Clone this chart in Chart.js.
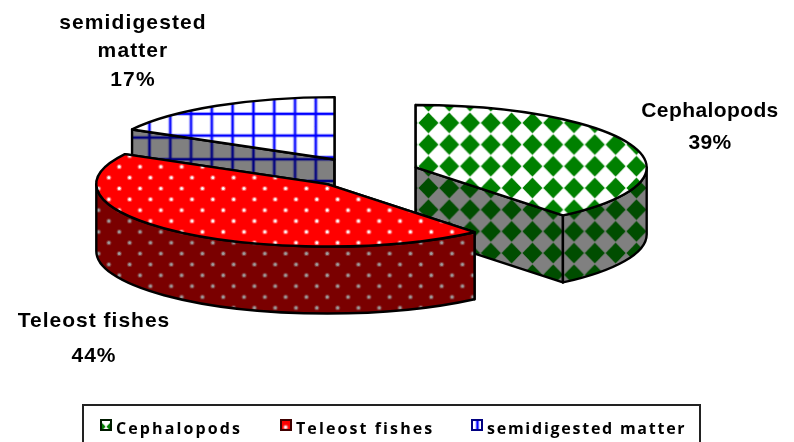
<!DOCTYPE html>
<html>
<head>
<meta charset="utf-8">
<style>
  html, body { margin: 0; padding: 0; background: #fff; }
  #wrap { width: 794px; height: 442px; position: relative; overflow: hidden; }
</style>
<script src="https://cdn.jsdelivr.net/npm/chart.js@4"></script>
</head>
<body>
<div id="wrap"><canvas id="dietChart"></canvas></div>
<script>
var categories = ['Cephalopods', 'Teleost fishes', 'semidigested matter'];
var shares = [39, 44, 17];

// pie look: tilt of the disc, thickness, how far slices are pulled out
var TILT = 0.27;
var DEPTH = 67;
var EXPLODE = 56;
var RADIUS = 231;

function tile(w, h, bg, paint) {
    var c = document.createElement('canvas');
    c.width = w;
    c.height = h;
    var g = c.getContext('2d');
    g.fillStyle = bg;
    g.fillRect(0, 0, w, h);
    paint(g, w, h);
    return c;
}

function toPattern(canvas, ox, oy) {
    var p = document.createElement('canvas').getContext('2d').createPattern(canvas, 'repeat');
    // tiles repeat about every 20.8 x 21.7 px on screen
    p.setTransform(new DOMMatrix().translate(ox, oy).scale(20.8 / canvas.width, 21.7 / canvas.height));
    return p;
}

function diamonds(bg, fg, ox, oy) {
    return toPattern(tile(21, 22, bg, function (g, w, h) {
        g.fillStyle = fg;
        g.beginPath();
        g.moveTo(w / 2, 0.4);
        g.lineTo(w - 0.4, h / 2);
        g.lineTo(w / 2, h - 0.4);
        g.lineTo(0.4, h / 2);
        g.closePath();
        g.fill();
    }), ox, oy);
}

function dots(bg, fg, ox, oy) {
    return toPattern(tile(21, 22, bg, function (g, w, h) {
        [[w / 4, h / 4], [w * 3 / 4, h * 3 / 4]].forEach(function (d) {
            // soft halo round each dot
            g.globalAlpha = 0.35;
            g.fillStyle = fg;
            g.beginPath();
            g.arc(d[0], d[1], 2.6, 0, Math.PI * 2);
            g.fill();
            g.globalAlpha = 1;
            g.beginPath();
            g.arc(d[0], d[1], 1.5, 0, Math.PI * 2);
            g.fill();
        });
    }), ox, oy);
}

function grid(bg, fg, ox, oy) {
    return toPattern(tile(21, 22, bg, function (g, w, h) {
        g.fillStyle = fg;
        g.globalAlpha = 0.3;
        g.fillRect(w / 2 - 2, 0, 4, h);
        g.fillRect(0, h / 2 - 2, w, 4);
        g.globalAlpha = 1;
        g.fillRect(w / 2 - 1, 0, 2, h);
        g.fillRect(0, h / 2 - 1, w, 2);
    }), ox, oy);
}

var topFills = [
    diamonds('#ffffff', '#008000', 418, 112),
    dots('#ff0000', '#ffffff', 114, 183),
    grid('#ffffff', '#0000ff', 139, 103)
];
var wallFills = [
    diamonds('#808080', '#004d00', 418, 112),
    dots('#7a0000', '#a0a0a0', 114, 183),
    grid('#808080', '#000080', 139, 105)
];
var swatchFills = [topFills[0], topFills[1], grid('#ffffff', '#0000ff', 467, 430)];
var swatchEdges = ['#001a00', '#400000', '#000080'];

function pt(c, a, r) {
    return { x: c.x + Math.cos(a) * r, y: c.y + Math.sin(a) * r * TILT };
}

function ellipseArc(ctx, c, r, from, to, drop, ccw) {
    ctx.ellipse(c.x, c.y + drop, r, r * TILT, 0, from, to, ccw);
}

function paintPath(ctx, fill) {
    ctx.fillStyle = fill;
    ctx.fill();
    ctx.lineWidth = 2.4;
    ctx.strokeStyle = '#000';
    ctx.lineJoin = 'round';
    ctx.stroke();
}

function radialFace(ctx, c, r, a, fill) {
    var p = pt(c, a, r);
    ctx.beginPath();
    ctx.moveTo(c.x, c.y);
    ctx.lineTo(p.x, p.y);
    ctx.lineTo(p.x, p.y + DEPTH);
    ctx.lineTo(c.x, c.y + DEPTH);
    ctx.closePath();
    paintPath(ctx, fill);
}

function drawSlice(ctx, arc, i) {
    var s = arc.startAngle, e = arc.endAngle, r = arc.outerRadius;
    var mid = (s + e) / 2;
    var c = { x: arc.x + Math.cos(mid) * EXPLODE, y: arc.y + Math.sin(mid) * EXPLODE * TILT };

    radialFace(ctx, c, r, s, wallFills[i]);
    radialFace(ctx, c, r, e, wallFills[i]);

    // only the part of the rim on the viewer's side is visible (0..PI on canvas)
    var fs = Math.max(s, 0), fe = Math.min(e, Math.PI);
    if (fe > fs) {
        var a = pt(c, fs, r), b = pt(c, fe, r);
        ctx.beginPath();
        ctx.moveTo(a.x, a.y);
        ellipseArc(ctx, c, r, fs, fe, 0, false);
        ctx.lineTo(b.x, b.y + DEPTH);
        ellipseArc(ctx, c, r, fe, fs, DEPTH, true);
        ctx.closePath();
        paintPath(ctx, wallFills[i]);
    }

    ctx.beginPath();
    ctx.moveTo(c.x, c.y);
    ellipseArc(ctx, c, r, s, e, 0, false);
    ctx.closePath();
    paintPath(ctx, topFills[i]);
}

var tiltedPie = {
    id: 'tiltedPie',
    beforeDatasetDraw: function (chart, args) {
        var arcs = args.meta.data;
        var ctx = chart.ctx;
        ctx.save();
        // back slice first, the front slice covers the others
        [2, 0, 1].forEach(function (i) {
            drawSlice(ctx, arcs[i], i);
        });
        ctx.restore();
        return false;
    }
};

var labelLines = [
    [categories[0], null],
    [categories[1], null],
    ['semidigested', 'matter', null]
];
var labelSpots = [
    { x: 710, y: 111, gap: 32, spacing: '0.4px' },
    { x: 94, y: 321, gap: 35, spacing: '1px' },
    { x: 133, y: 23, gap: 28.5, spacing: '1.1px' }
];
var legendSpots = [
    { box: 101, text: 116, spacing: '2.1px' },
    { box: 281, text: 296, spacing: '2.1px' },
    { box: 472, text: 487, spacing: '1.75px' }
];

var textAndLegend = {
    id: 'textAndLegend',
    afterDraw: function (chart) {
        var ctx = chart.ctx;
        ctx.save();
        ctx.textBaseline = 'middle';
        ctx.fillStyle = '#000';

        ctx.font = 'bold 21px "Liberation Sans"';
        ctx.textAlign = 'center';
        labelSpots.forEach(function (spot, i) {
            ctx.letterSpacing = spot.spacing;
            labelLines[i].forEach(function (line, n) {
                ctx.fillText(line === null ? shares[i] + '%' : line, spot.x, spot.y + n * spot.gap);
            });
        });

        // legend frame runs off the bottom edge of the page
        ctx.strokeStyle = '#222';
        ctx.lineWidth = 2;
        ctx.strokeRect(83, 405, 617, 45);

        ctx.textAlign = 'left';
        ctx.textBaseline = 'alphabetic';
        ctx.font = 'bold 16px "Open Sans"';
        legendSpots.forEach(function (spot, i) {
            ctx.fillStyle = swatchFills[i];
            ctx.strokeStyle = swatchEdges[i];
            ctx.lineWidth = 2;
            ctx.fillRect(spot.box, 420, 10, 10);
            ctx.strokeRect(spot.box, 420, 10, 10);
            ctx.fillStyle = '#000';
            ctx.letterSpacing = spot.spacing;
            ctx.fillText(categories[i], spot.text, 434);
        });
        ctx.restore();
    }
};

new Chart(document.getElementById('dietChart').getContext('2d'), {
    type: 'pie',
    data: {
        labels: categories,
        datasets: [{ data: shares }]
    },
    options: {
        responsive: true,
        maintainAspectRatio: false,
        animation: false,
        radius: RADIUS,
        rotation: 0,
        layout: { padding: { right: 68, bottom: 97 } },
        plugins: { legend: { display: false }, tooltip: { enabled: false } }
    },
    plugins: [tiltedPie, textAndLegend]
});
</script>
</body>
</html>
